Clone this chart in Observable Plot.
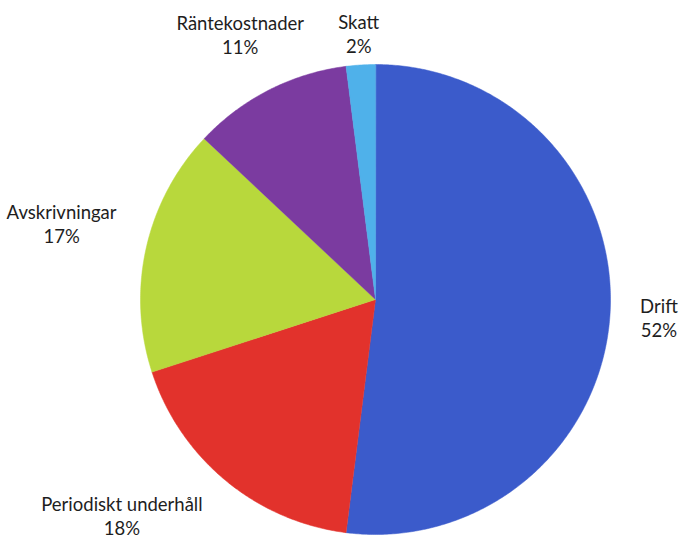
<!DOCTYPE html>
<html>
<head>
<meta charset="utf-8">
<script src="https://cdn.jsdelivr.net/npm/d3@7"></script>
<script src="https://cdn.jsdelivr.net/npm/@observablehq/plot@0.6"></script>
<style>
  html, body { margin: 0; padding: 0; background: #fff; }
  #chart svg { display: block; }
</style>
</head>
<body>
<div id="chart"></div>
<script>
// ---- data ----
const categories = ["Drift", "Periodiskt underhåll", "Avskrivningar", "Räntekostnader", "Skatt"];
const values = [52, 18, 17, 11, 2];
const palette = ["#3b5bcb", "#e2322c", "#b8d83c", "#7b3ba0", "#4fb1ea"];

// ---- layout ----
const W = 699, H = 542;
const cx = 375, cy = 299, R = 235;
const fontSize = 18.5, lineHeightPx = 24, fontFamily = "Lato, 'Open Sans', sans-serif";

const pie = d3.pie().sort(null).value(d => d.value).startAngle(0).endAngle(2 * Math.PI);
const arcs = pie(categories.map((c, i) => ({category: c, value: values[i]})));

// polygon rows for each slice (center + arc samples), in unit-circle data space
const rows = [];
for (const a of arcs) {
  rows.push({category: a.data.category, x: 0, y: 0});
  const n = Math.max(2, Math.ceil((a.endAngle - a.startAngle) / (Math.PI / 360)));
  for (let k = 0; k <= n; k++) {
    const t = a.startAngle + (a.endAngle - a.startAngle) * k / n;
    rows.push({category: a.data.category, x: Math.sin(t), y: Math.cos(t)});
  }
}

// label placement ("best fit"): outside the pie along the mid-angle; the box must
// clear a ring around the pie, stay inside the frame and not overlap other labels,
// sliding along the circle when needed. Smaller slices are placed first.
const ctx = document.createElement("canvas").getContext("2d");
ctx.font = `${fontSize}px ${fontFamily}`;
const hh = lineHeightPx;
function clearDist(t, hw) {
  const ux = Math.sin(t), uy = Math.cos(t);
  const gap = 6 + 20 * Math.abs(ux);
  for (let d = R; d < R * 3; d += 1) {
    const bx = ux * d, by = uy * d;
    const nx = Math.max(bx - hw, Math.min(0, bx + hw));
    const ny = Math.max(by - hh, Math.min(0, by + hh));
    if (Math.hypot(nx, ny) >= R + gap) return d;
  }
  return R * 3;
}
const placed = [];
const order = d3.sort(d3.range(arcs.length), i => arcs[i].data.value);
const labels = new Array(arcs.length);
for (const i of order) {
  const a = arcs[i];
  const mid = (a.startAngle + a.endAngle) / 2;
  const name = a.data.category, pct = `${a.data.value}%`;
  const hw = Math.max(ctx.measureText(name).width, ctx.measureText(pct).width) / 2 + 3;
  let best = null;
  for (let k = 0; k <= 120 && !best; k++) {
    for (const s of k ? [1, -1] : [1]) {
      const t = mid + s * k * Math.PI / 180;
      const d = clearDist(t, hw);
      const px = cx + Math.sin(t) * d, py = cy - Math.cos(t) * d;
      const box = {x0: px - hw, x1: px + hw, y0: py - hh, y1: py + hh};
      const inFrame = box.x0 >= 2 && box.x1 <= W - 2 && box.y0 >= 4 && box.y1 <= H - 2;
      const free = placed.every(b => box.x1 < b.x0 || box.x0 > b.x1 || box.y1 < b.y0 || box.y0 > b.y1);
      if (inFrame && free) {
        best = {x: Math.sin(t) * d / R, y: Math.cos(t) * d / R};
        placed.push(box);
        break;
      }
    }
  }
  if (!best) { const d = clearDist(mid, hw); best = {x: Math.sin(mid) * d / R, y: Math.cos(mid) * d / R}; }
  labels[i] = {...best, text: `${name}\n${pct}`};
}

const chart = Plot.plot({
  width: W,
  height: H,
  margin: 0,
  x: {domain: [-1, 1], range: [cx - R, cx + R], axis: null},
  y: {domain: [-1, 1], range: [cy + R, cy - R], axis: null},
  color: {domain: categories, range: palette},
  style: {fontFamily, background: "#fff"},
  marks: [
    Plot.line(rows, {x: "x", y: "y", z: "category", fill: "category", stroke: "category", strokeWidth: 0.5, curve: "linear-closed"}),
    Plot.text(labels, {x: "x", y: "y", text: "text", fontSize, lineHeight: lineHeightPx / fontSize, fill: "#1e1e1e", lineAnchor: "middle", textAnchor: "middle", clip: false})
  ]
});
document.getElementById("chart").appendChild(chart);
</script>
</body>
</html>
